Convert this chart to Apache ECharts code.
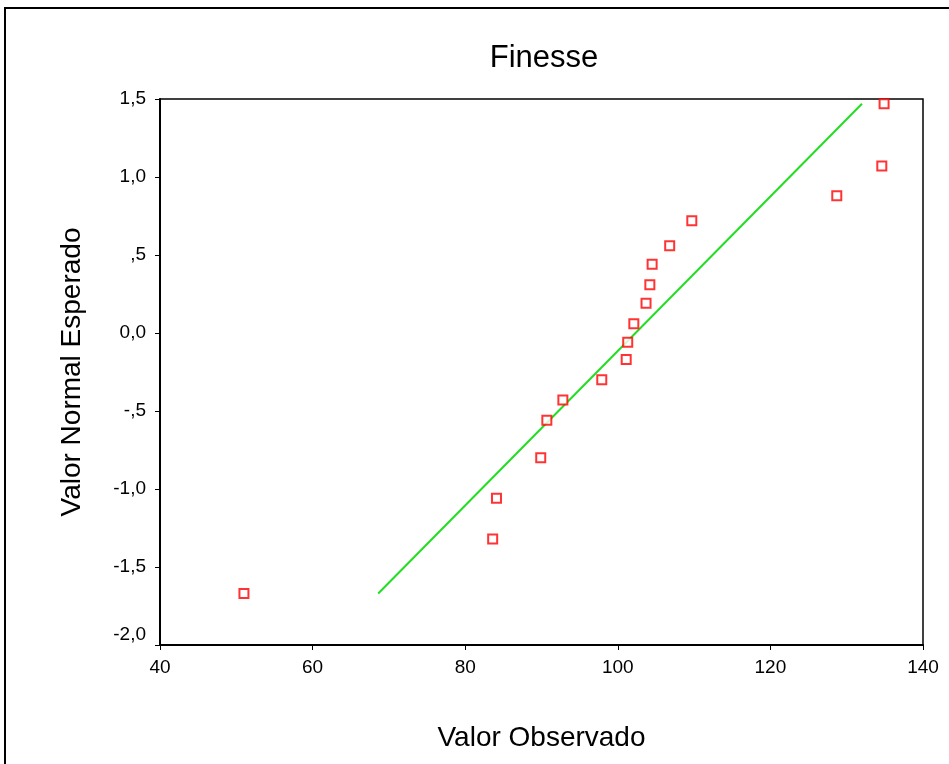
<!DOCTYPE html>
<html>
<head>
<meta charset="utf-8">
<script src="https://cdn.jsdelivr.net/npm/echarts@6/dist/echarts.min.js"></script>
<style>
    html, body { margin: 0; padding: 0; background: #fff; }
    #chart { width: 949px; height: 764px; }
</style>
</head>
<body>
<div id="chart"></div>
<script>
const observado = [51.0, 83.6, 84.1, 89.9, 90.7, 92.8, 97.9, 101.1, 101.3, 102.1,
    103.7, 104.2, 104.5, 106.8, 109.7, 128.7, 134.6, 134.9];
const esperado = [-1.67, -1.32, -1.06, -0.80, -0.56, -0.43, -0.30, -0.17, -0.06, 0.06,
    0.19, 0.31, 0.44, 0.56, 0.72, 0.88, 1.07, 1.47];
// reta normal de referência
const retaX = [68.6, 132.0];
const retaY = [-1.67, 1.47];
// rótulos do eixo Y
const yTicks = [-2.0, -1.5, -1.0, -0.5, 0.0, 0.5, 1.0, 1.5];
const yLabels = ['-2,0', '-1,5', '-1,0', '-,5', '0,0', ',5', '1,0', '1,5'];

const fonte = 'Liberation Sans, Arial, sans-serif';

const initChart = function () {
    const pontos = observado.map(function (x, i) {
        return [x, esperado[i]];
    });
    const reta = retaX.map(function (x, i) {
        return [x, retaY[i]];
    });

    const option = {
        backgroundColor: '#fff',
        animation: false,
        title: {
            text: 'Finesse',
            left: 539,
            top: 38,
            textAlign: 'center',
            textStyle: {
                fontFamily: fonte,
                fontSize: 31,
                fontWeight: 'normal',
                color: '#000'
            }
        },
        graphic: [{
            type: 'rect',
            shape: {x: 5, y: 8, width: 980, height: 800},
            style: {fill: 'none', stroke: '#000', lineWidth: 2}
        }],
        grid: {
            left: 160,
            right: 26,
            top: 99,
            bottom: 119,
            show: true,
            borderColor: '#000',
            borderWidth: 1.5,
            backgroundColor: 'transparent'
        },
        xAxis: {
            type: 'value',
            min: 40,
            max: 140,
            interval: 20,
            name: 'Valor Observado',
            nameLocation: 'middle',
            nameGap: 79,
            nameTextStyle: {fontFamily: fonte, fontSize: 28, color: '#000'},
            axisLine: {onZero: false, lineStyle: {color: '#000', width: 2}},
            axisTick: {show: true, length: 5, lineStyle: {color: '#000'}},
            axisLabel: {fontFamily: fonte, fontSize: 19, color: '#000', margin: 13},
            splitLine: {show: false}
        },
        yAxis: {
            type: 'value',
            min: -2.0,
            max: 1.5,
            interval: 0.5,
            name: 'Valor Normal Esperado',
            nameLocation: 'middle',
            nameGap: 74,
            nameTextStyle: {fontFamily: fonte, fontSize: 28, color: '#000'},
            axisLine: {onZero: false, lineStyle: {color: '#000', width: 2}},
            axisTick: {show: true, length: 5, lineStyle: {color: '#000'}},
            axisLabel: {
                fontFamily: fonte,
                fontSize: 19,
                color: '#000',
                margin: 14,
                verticalAlign: 'middle',
                rich: {
                    low: {
                        fontFamily: fonte,
                        fontSize: 19,
                        color: '#000',
                        padding: [0, 0, 20, 0]
                    }
                },
                formatter: function (v) {
                    const i = yTicks.findIndex(function (t) {
                        return Math.abs(t - v) < 1e-6;
                    });
                    if (i < 0) return '';
                    // o rótulo de baixo fica acima do eixo X
                    return i === 0 ? '{low|' + yLabels[i] + '}' : yLabels[i];
                }
            },
            splitLine: {show: false}
        },
        series: [
            {
                type: 'line',
                data: reta,
                showSymbol: false,
                symbol: 'none',
                lineStyle: {color: '#22dd22', width: 2},
                z: 2
            },
            {
                type: 'scatter',
                data: pontos,
                symbol: 'rect',
                symbolSize: 9,
                itemStyle: {color: '#fff', borderColor: '#ff0000', borderWidth: 2},
                z: 3
            }
        ]
    };

    const chart = echarts.init(document.getElementById('chart'));
    chart.setOption(option);
};

initChart();
</script>
</body>
</html>
